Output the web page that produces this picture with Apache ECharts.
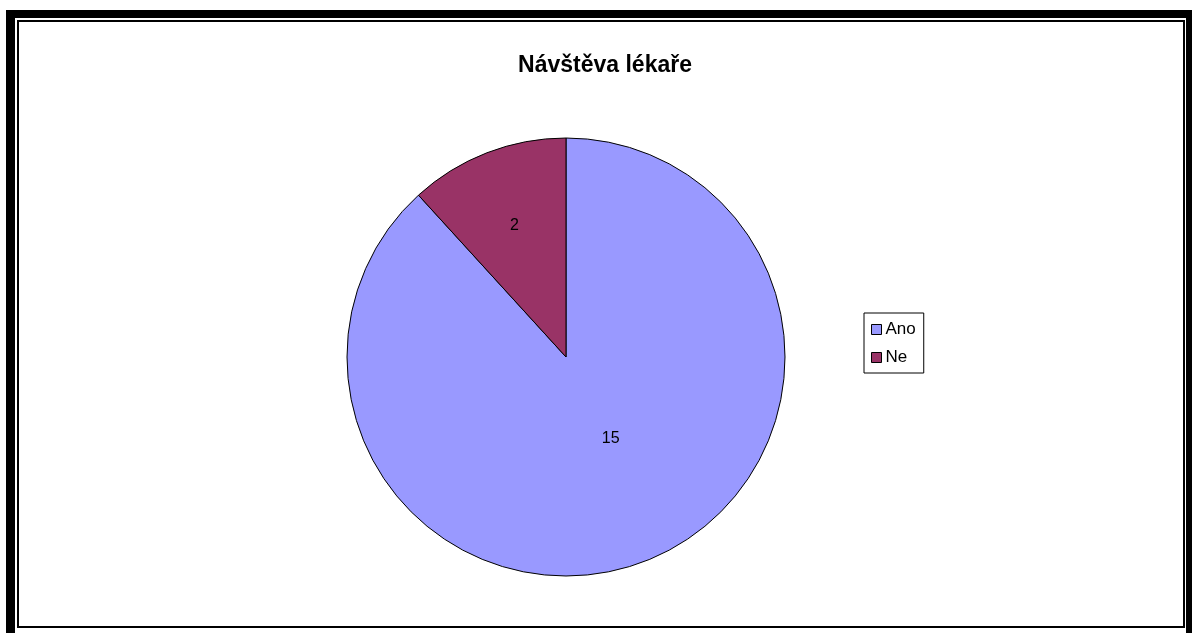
<!DOCTYPE html>
<html>
<head>
<meta charset="utf-8">
<script src="https://cdn.jsdelivr.net/npm/echarts@6/dist/echarts.min.js"></script>
<style>
    body { margin: 0; background: #fff; }
    #wrap { position: relative; width: 1196px; height: 633px; overflow: hidden; }
    #chart { position: absolute; left: 0; top: 0; width: 1196px; height: 633px; }
    .frame { position: absolute; box-sizing: border-box; pointer-events: none; }
    #outer { left: 6px; top: 10px; width: 1186px; height: 630px; border-style: solid; border-color: #000; border-width: 8px 6px 5px 9px; }
    #inner { left: 17px; top: 20px; width: 1168px; height: 608px; border: 2px solid #000; }
</style>
</head>
<body>
<div id="wrap">
    <div id="chart"></div>
    <div class="frame" id="outer"></div>
    <div class="frame" id="inner"></div>
</div>
<script>
    // data
    const categories = ["Ano", "Ne"];
    const values = [15, 2];
    const colors = ["#9999FF", "#993366"];

    const chart = echarts.init(document.querySelector("#chart"));

    let pieData = categories.map((c, i) => {
        return { name: c, value: values[i], itemStyle: { color: colors[i] } };
    });

    let option = {
        animation: false,
        title: {
            text: "Návštěva lékaře",
            left: 600,
            top: 49,
            textAlign: "center",
            textStyle: { fontFamily: "Liberation Sans, Arial", fontSize: 23, fontWeight: "bold", color: "#000" }
        },
        legend: {
            orient: "vertical",
            left: 864,
            top: 313,
            padding: [8, 8, 7, 7],
            itemWidth: 10,
            itemHeight: 10,
            itemGap: 11,
            icon: "rect",
            borderColor: "#000",
            borderWidth: 1,
            backgroundColor: "#fff",
            itemStyle: { borderColor: "#000", borderWidth: 1 },
            textStyle: { fontFamily: "Liberation Sans, Arial", fontSize: 17, color: "#000", padding: [0, 0, 0, -1] },
            data: categories
        },
        series: [{
            type: "pie",
            center: [566, 357],
            radius: 219,
            startAngle: 90,
            clockwise: true,
            itemStyle: { borderColor: "#000", borderWidth: 1 },
            label: {
                position: "inside",
                formatter: "{c}",
                fontFamily: "Liberation Sans, Arial",
                fontSize: 16,
                color: "#000"
            },
            labelLayout: function (p) {
                // excel puts the labels a bit off the mid radius
                if (p.dataIndex === 1) return { dx: -11, dy: -27 };
                return { dx: 4, dy: -23 };
            },
            emphasis: { disabled: true },
            data: pieData
        }]
    };

    chart.setOption(option);
</script>
</body>
</html>
